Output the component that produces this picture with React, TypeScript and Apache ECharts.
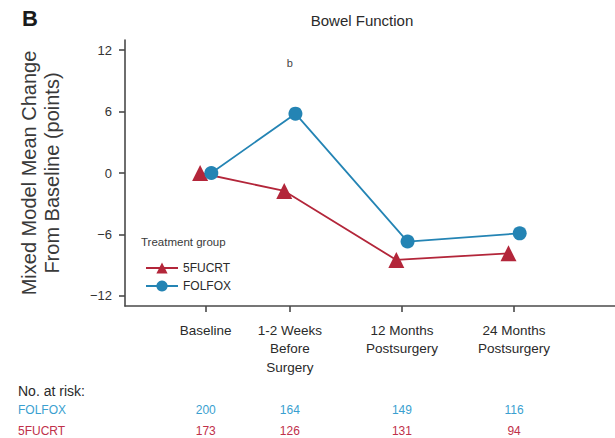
import React, { useEffect, useRef } from "react";
import * as echarts from "echarts";

// Time points on the x-axis (position along the axis) and their labels
const categories = ["Baseline", "1-2 Weeks\nBefore\nSurgery", "12 Months\nPostsurgery", "24 Months\nPostsurgery"];
const timePositions = [0, 0.75, 1.75, 2.75];

// Mixed model mean change from baseline (points)
const fucrtValues = [0, -1.75, -8.5, -7.85];
const folfoxValues = [0, 5.8, -6.7, -5.9];

// Number at risk per time point
const folfoxAtRisk = [200, 164, 149, 116];
const fucrtAtRisk = [173, 126, 131, 94];

const yTicks = [-12, -6, 0, 6, 12];

const RED = "#b3263a";
const BLUE = "#2484b4";
const FONT = "'Liberation Sans', Arial, sans-serif";
const dodge = 0.05;

export default function App() {
  const ref = useRef<HTMLDivElement>(null);

  useEffect(() => {
    if (!ref.current) return;
    const chart = echarts.init(ref.current, null, { renderer: "svg" });

    chart.setOption({
      animation: false,
      textStyle: { fontFamily: FONT },
      grid: { left: 125, right: 0, top: 40, bottom: 132 },
      xAxis: {
        type: "value",
        min: -0.72,
        max: 3.65,
        splitLine: { show: false },
        axisLine: { show: true, onZero: false, lineStyle: { color: "#4a4a4a", width: 1.6 } },
        axisTick: { show: true, length: 6, customValues: timePositions, lineStyle: { color: "#4a4a4a", width: 1.6 } },
        axisLabel: {
          customValues: timePositions,
          formatter: (v: number) => {
            const i = timePositions.findIndex((t) => Math.abs(t - v) < 1e-6);
            return i >= 0 ? categories[i] : "";
          },
          color: "#2a2a2a",
          fontSize: 13.5,
          lineHeight: 18.5,
          margin: 15,
        },
      },
      yAxis: {
        type: "value",
        min: -13,
        max: 13,
        splitLine: { show: false },
        axisLine: { show: true, onZero: false, lineStyle: { color: "#4a4a4a", width: 1.6 } },
        axisTick: { show: true, length: 6, customValues: yTicks, lineStyle: { color: "#4a4a4a", width: 1.6 } },
        axisLabel: { customValues: yTicks, color: "#333", fontSize: 13, margin: 13, formatter: (v: number) => (v < 0 ? "\u2212" + Math.abs(v) : String(v)) },
        name: "Mixed Model Mean Change\nFrom Baseline (points)",
        nameLocation: "middle",
        nameRotate: 90,
        nameGap: 62,
        nameTextStyle: { fontSize: 20, color: "#3a3a3a", lineHeight: 23 },
      },
      legend: {
        orient: "vertical",
        left: 140,
        top: 257,
        itemWidth: 32,
        itemHeight: 14,
        itemGap: 6,
        textStyle: { fontSize: 12, color: "#2a2a2a" },
        data: ["5FUCRT", "FOLFOX"],
      },
      series: [
        {
          name: "5FUCRT",
          type: "line",
          data: timePositions.map((t, i) => [t - dodge, fucrtValues[i]]),
          symbol: "triangle",
          symbolSize: 16,
          itemStyle: { color: RED },
          lineStyle: { color: RED, width: 1.8 },
        },
        {
          name: "FOLFOX",
          type: "line",
          data: timePositions.map((t, i) => [t + dodge, folfoxValues[i]]),
          symbol: "circle",
          symbolSize: 14,
          itemStyle: { color: BLUE },
          lineStyle: { color: BLUE, width: 1.8 },
        },
      ],
    });

    // Texts placed against the axes' own scale
    const px = (x: number, y: number) => chart.convertToPixel({ gridIndex: 0 }, [x, y]) as number[];
    const riskTexts: any[] = [];
    timePositions.forEach((t, i) => {
      const cx = px(t, 0)[0];
      riskTexts.push({ type: "text", x: cx, y: 410, style: { text: String(folfoxAtRisk[i]), fill: "#3a9fd0", font: `12px ${FONT}`, align: "center", verticalAlign: "middle" } });
      riskTexts.push({ type: "text", x: cx, y: 431, style: { text: String(fucrtAtRisk[i]), fill: "#c0304a", font: `12px ${FONT}`, align: "center", verticalAlign: "middle" } });
    });
    const bPos = px(timePositions[1], 10.8);

    chart.setOption({
      graphic: [
        { type: "text", x: 22, y: 18, style: { text: "B", fill: "#1a1a1a", font: `bold 22px ${FONT}`, verticalAlign: "middle" } },
        { type: "text", x: 362, y: 20, style: { text: "Bowel Function", fill: "#2a2a2a", font: `15px ${FONT}`, align: "center", verticalAlign: "middle" } },
        { type: "text", x: bPos[0], y: bPos[1], style: { text: "b", fill: "#444", font: `11px ${FONT}`, align: "center", verticalAlign: "middle" } },
        { type: "text", x: 141, y: 242, style: { text: "Treatment group", fill: "#3a3a3a", font: `11.5px ${FONT}`, verticalAlign: "middle" } },
        { type: "text", x: 18, y: 391, style: { text: "No. at risk:", fill: "#2a2a2a", font: `14px ${FONT}`, verticalAlign: "middle" } },
        { type: "text", x: 18, y: 410, style: { text: "FOLFOX", fill: "#3a9fd0", font: `12px ${FONT}`, verticalAlign: "middle" } },
        { type: "text", x: 18, y: 431, style: { text: "5FUCRT", fill: "#c0304a", font: `12px ${FONT}`, verticalAlign: "middle" } },
        ...riskTexts,
      ],
    });

    return () => chart.dispose();
  }, []);

  return <div ref={ref} style={{ position: "fixed", left: 0, top: 0, width: 615, height: 438, background: "#fff" }} />;
}
